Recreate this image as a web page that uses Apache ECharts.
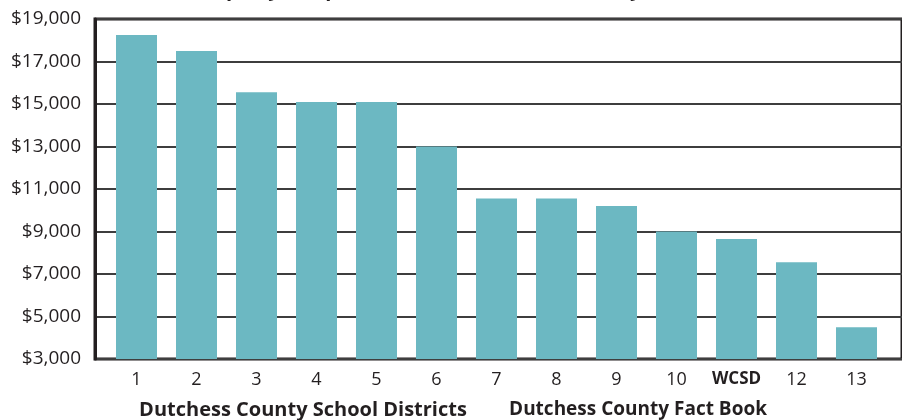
<!DOCTYPE html>
<html>
<head>
<meta charset="utf-8">
<script src="https://cdn.jsdelivr.net/npm/echarts@6/dist/echarts.min.js"></script>
<style>
  html, body { margin: 0; padding: 0; background: #fff; }
  #chart { width: 902px; height: 420px; }
</style>
</head>
<body>
<div id="chart"></div>
<script>
const categories = ['1', '2', '3', '4', '5', '6', '7', '8', '9', '10', 'WCSD', '12', '13'];
const values = [18250, 17500, 15550, 15100, 15100, 13000, 10550, 10550, 10200, 9000, 8650, 7550, 4500];
const yMin = 3000, yMax = 19000, yStep = 2000;
const titleText = 'Property Tax per Student in Dutchess County (2008-2009)';
const footerLeft = 'Dutchess County School Districts';
const footerRight = 'Dutchess County Fact Book';

const FONT = '"Open Sans", "Noto Sans", sans-serif';
const chart = echarts.init(document.getElementById('chart'), null, { renderer: 'canvas' });

chart.setOption({
  animation: false,
  backgroundColor: '#ffffff',
  title: [
    { text: titleText, left: 470, top: -25, textAlign: 'center',
      textStyle: { fontFamily: FONT, fontSize: 20, fontWeight: 'bold', color: '#231f20' } },
    { text: footerLeft, left: 298, top: 395, textAlign: 'center',
      textStyle: { fontFamily: FONT, fontSize: 20, fontWeight: 'bold', color: '#231f20' } },
    { text: footerRight, left: 633, top: 395, textAlign: 'center',
      textStyle: { fontFamily: FONT, fontSize: 19, fontWeight: 'bold', color: '#231f20' } }
  ],
  grid: [
    { left: 95, right: -10, top: 19, bottom: 61, show: true, borderColor: '#231f20', borderWidth: 3, backgroundColor: 'transparent' },
    { left: 106.5, right: 15.5, top: 19, bottom: 61 }
  ],
  xAxis: [
    { gridIndex: 0, type: 'value', min: 0, max: 1, show: false },
    { gridIndex: 1, type: 'category', data: categories,
      axisLine: { show: false }, axisTick: { show: false },
      axisLabel: {
        interval: 0, margin: 12, fontFamily: FONT, fontSize: 18, color: '#231f20',
        formatter: function (v) { return v === 'WCSD' ? '{b|' + v + '}' : v; },
        rich: { b: { fontFamily: FONT, fontSize: 17, fontWeight: 'bold', color: '#231f20' } }
      } }
  ],
  yAxis: [
    { gridIndex: 0, type: 'value', min: yMin, max: yMax, interval: yStep,
      axisLine: { show: true, lineStyle: { color: '#231f20', width: 3 } },
      axisTick: { show: false },
      splitLine: { show: true, lineStyle: { color: '#3e3e3e', width: 2 } },
      axisLabel: { margin: 14, fontFamily: FONT, fontSize: 19, color: '#231f20',
        formatter: function (v) { return '$' + v.toLocaleString('en-US'); } } },
    { gridIndex: 1, type: 'value', min: yMin, max: yMax, interval: yStep, show: false,
      splitLine: { show: false } }
  ],
  series: [
    { type: 'bar', xAxisIndex: 1, yAxisIndex: 1, data: values, barWidth: 41,
      itemStyle: { color: '#6cb8c2' }, z: 1 }
  ]
});
</script>
</body>
</html>
